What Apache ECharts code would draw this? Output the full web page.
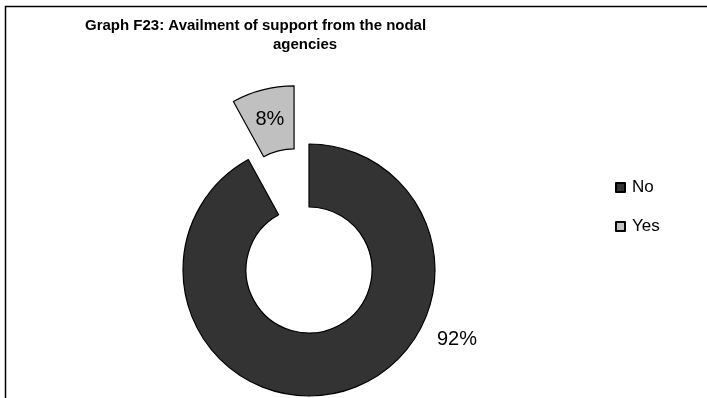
<!DOCTYPE html>
<html>
<head>
<meta charset="utf-8">
<script src="https://cdn.jsdelivr.net/npm/echarts@6/dist/echarts.min.js"></script>
<style>
html,body{margin:0;padding:0;background:#fff;}
#c{width:707px;height:398px;}
</style>
</head>
<body>
<div id="c"></div>
<script>
const titleLines = ['Graph F23: Availment of support from the nodal', 'agencies'];
const categories = ['No', 'Yes'];
const values = [92, 8];
const colors = ['#333333', '#c0c0c0'];

const chart = echarts.init(document.getElementById('c'), null, {renderer: 'canvas'});
const font = '"Liberation Sans", Arial, sans-serif';

const option = {
  animation: false,
  backgroundColor: '#ffffff',
  title: [
    {text: titleLines[0], left: 85, top: 18, padding: 0,
     textStyle: {fontFamily: font, fontSize: 15, fontWeight: 'bold', color: '#000'}},
    {text: titleLines[1], left: 273, top: 37, padding: 0,
     textStyle: {fontFamily: font, fontSize: 15, fontWeight: 'bold', color: '#000'}}
  ],
  legend: {
    orient: 'vertical',
    left: 615,
    top: 179,
    padding: 0,
    itemWidth: 9,
    itemHeight: 9,
    itemGap: 22,
    icon: 'rect',
    selectedMode: false,
    textStyle: {fontFamily: font, fontSize: 17, color: '#000', padding: [0, 0, 0, 2]},
    data: categories
  },
  graphic: [{
    type: 'rect',
    shape: {x: 5.5, y: 6.5, width: 710, height: 400},
    style: {fill: 'none', stroke: '#000', lineWidth: 1.5},
    silent: true
  }],
  series: [{
    type: 'pie',
    center: [309, 270],
    radius: [63, 126],
    startAngle: 90,
    clockwise: true,
    selectedMode: 'single',
    selectedOffset: 60,
    avoidLabelOverlap: false,
    emphasis: {disabled: true},
    itemStyle: {borderColor: '#000', borderWidth: 1.2},
    label: {
      show: true,
      position: 'inside',
      formatter: '{d}%',
      fontFamily: font,
      fontSize: 20,
      color: '#000'
    },
    labelLine: {show: false},
    labelLayout: function (p) {
      if (p.dataIndex === 0) {
        return {x: 457, y: 339, align: 'center', verticalAlign: 'middle'};
      }
      return {dy: 2};
    },
    data: categories.map((c, i) => ({
      name: c,
      value: values[i],
      selected: i === 1,
      itemStyle: {color: colors[i]}
    }))
  }]
};
chart.setOption(option);
</script>
</body>
</html>
